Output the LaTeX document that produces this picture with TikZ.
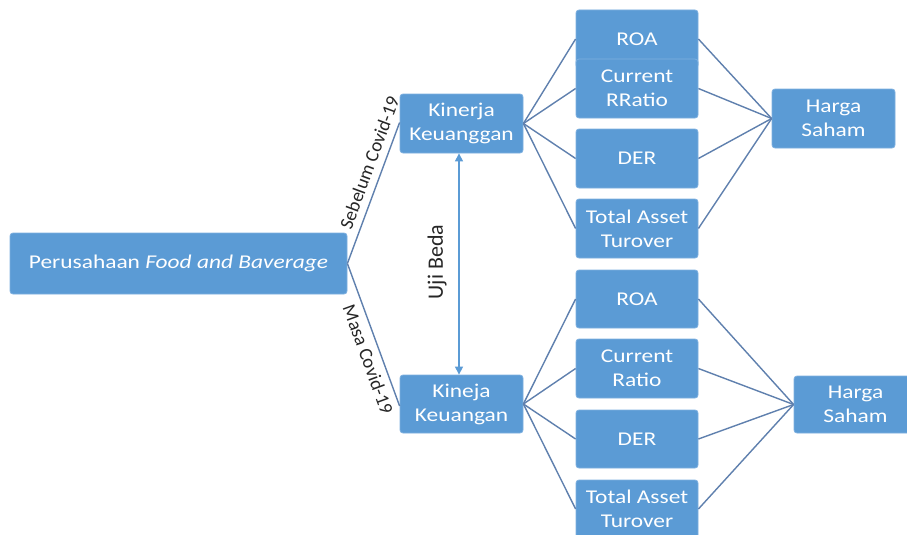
\documentclass[tikz,border=0pt]{standalone}
\usepackage{fontspec}
\setmainfont{Carlito}
\newfontfamily\boxfont[FakeStretch=1.2]{Carlito}
\usetikzlibrary{arrows.meta}
\definecolor{boxblue}{HTML}{5B9BD5}
\definecolor{boxedge}{HTML}{7EB0E0}
\definecolor{linegray}{HTML}{5F80AE}
\definecolor{arrowblue}{HTML}{5B9BD5}
\tikzset{
  blk/.style={draw=boxedge, line width=0.8pt, fill=boxblue, rounded corners=3pt,
    text=white, align=center, font=\boxfont\fontsize{19.5}{24}\selectfont,
    minimum width=123pt, minimum height=59pt, inner sep=1pt},
  conn/.style={draw=linegray, line width=1.4pt},
  lbl/.style={font=\fontsize{19}{21}\selectfont, text=black!85, inner sep=0pt}
}
\begin{document}
\begin{tikzpicture}[x=1pt,y=-1pt]
\useasboundingbox (0,0) rectangle (907,535);
\clip (0,0) rectangle (907,535);
\fill[white] (0,0) rectangle (907,535);
% left
\node[blk, minimum width=337pt, minimum height=61pt] (pfb) at (178.5,263.5)
  {Perusahaan \textit{Food and Baverage}};
\node[blk] (kk1) at (461.5,123.5) {Kinerja\\Keuanggan};
\node[blk, minimum height=58pt] (kk2) at (461.5,404) {Kineja\\Keuangan};
% top group
\node[blk, minimum width=122pt, minimum height=58pt] (roa1) at (637,39) {};
\node[font=\boxfont\fontsize{19.5}{24}\selectfont, text=white] (roa1t) at (637,39) {ROA};
\node[blk, minimum width=122pt] (cr1) at (637,88.5) {Current\\RRatio};
\node[blk, minimum width=122pt] (der1) at (637,158.5) {DER};
\node[blk, minimum width=122pt] (tat1) at (637,228.5) {Total Asset\\Turover};
\node[blk] (hs1) at (833.5,118.5) {Harga\\Saham};
% bottom group
\node[blk, minimum width=122pt, minimum height=58pt] (roa2) at (637,299) {ROA};
\node[blk, minimum width=122pt] (cr2) at (637,368.5) {Current\\Ratio};
\node[blk, minimum width=122pt, minimum height=58pt] (der2) at (637,439) {DER};
\node[blk, minimum width=122pt, minimum height=58pt] (tat2) at (637,509) {Total Asset\\Turover};
\node[blk, minimum height=57pt] (hs2) at (855.5,404.5) {Harga\\Saham};
% connectors left
\draw[conn] (pfb.east) -- node[lbl, above=7pt, sloped, pos=0.68] {Sebelum Covid-19} ([yshift=1pt]kk1.west);
\draw[conn] (pfb.east) -- node[lbl, below=6pt, sloped, pos=0.64] {Masa Covid-19} ([yshift=-2pt]kk2.west);
% top fan
\foreach \b in {roa1,cr1,der1,tat1}{
  \draw[conn] (kk1.east) -- (\b.west);
  \draw[conn] (\b.east) -- (hs1.west);
}
\foreach \b in {roa2,cr2,der2,tat2}{
  \draw[conn] (kk2.east) -- (\b.west);
  \draw[conn] (\b.east) -- (hs2.west);
}
% Uji Beda
\draw[draw=arrowblue, line width=1.2pt, {Triangle[length=8pt,width=8pt]}-{Triangle[length=8pt,width=8pt]}]
  ([xshift=-2.5pt]kk1.south) -- ([xshift=-2.5pt]kk2.north);
\node[rotate=90, font=\fontsize{22}{24}\selectfont, text=black!85] (uji) at (437,262) {Uji Beda};
\end{tikzpicture}
\end{document}
